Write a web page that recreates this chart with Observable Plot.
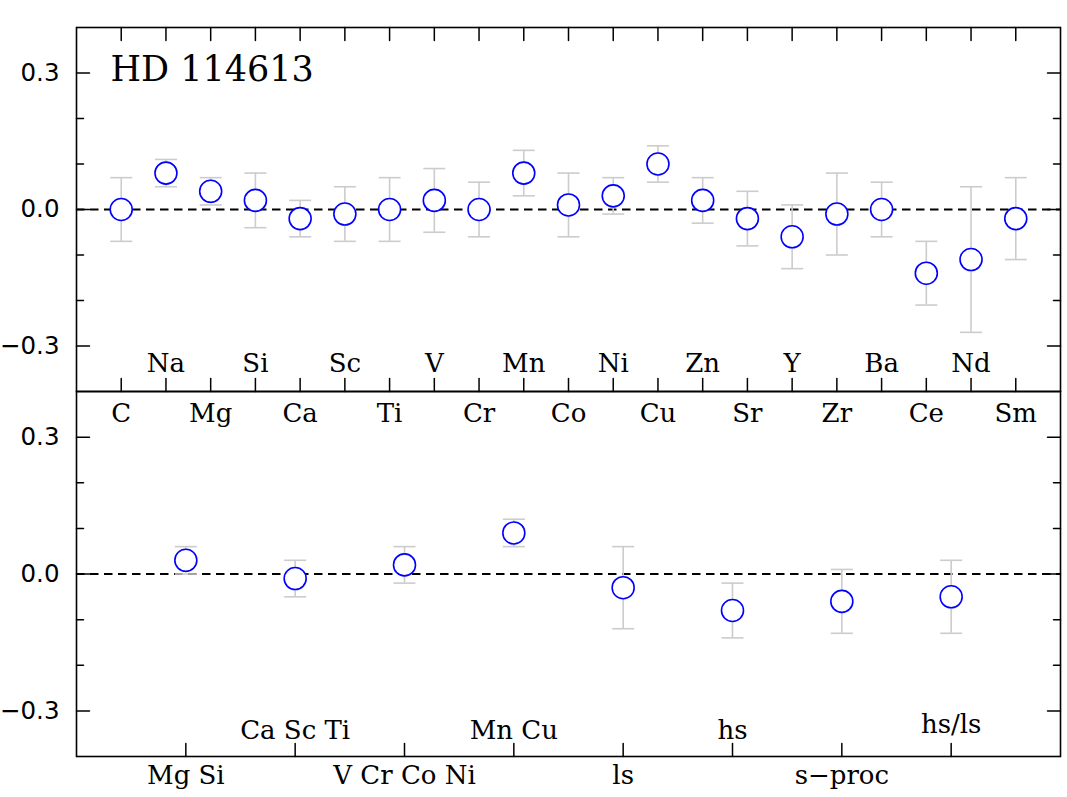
<!DOCTYPE html>
<html>
<head>
<meta charset="utf-8">
<script src="https://cdn.jsdelivr.net/npm/d3@7"></script>
<script src="https://cdn.jsdelivr.net/npm/@observablehq/plot@0.6"></script>
<style>
  html, body { margin: 0; padding: 0; background: #fff; }
  #chart { position: relative; width: 1067px; height: 797px; }
  #chart svg { position: absolute; left: 0; top: 0; }
</style>
</head>
<body>
<div id="chart"></div>
<script>
const title = "HD 114613";

const elements = ["C","Na","Mg","Si","Ca","Sc","Ti","V","Cr","Mn","Co","Ni","Cu","Zn","Sr","Y","Zr","Ba","Ce","Nd","Sm"];
const elementValues = [0.00, 0.08, 0.04, 0.02, -0.02, -0.01, 0.00, 0.02, 0.00, 0.08, 0.01, 0.03, 0.10, 0.02, -0.02, -0.06, -0.01, 0.00, -0.14, -0.11, -0.02];
const elementErrors = [0.07, 0.03, 0.03, 0.06, 0.04, 0.06, 0.07, 0.07, 0.06, 0.05, 0.07, 0.04, 0.04, 0.05, 0.06, 0.07, 0.09, 0.06, 0.07, 0.16, 0.09];

const groups = ["Mg Si","Ca Sc Ti","V Cr Co Ni","Mn Cu","ls","hs","s\u2212proc","hs/ls"];
const groupValues = [0.03, -0.01, 0.02, 0.09, -0.03, -0.08, -0.06, -0.05];
const groupErrors = [0.03, 0.04, 0.04, 0.03, 0.09, 0.06, 0.07, 0.08];

const yMajorTicks = [-0.3, 0, 0.3];
const yTickLabels = ["\u22120.3", "0.0", "0.3"];
const yMinorTicks = [-0.2, -0.1, 0.1, 0.2];

const W = 1067, H = 797;
const L = 76, R = 1060;

const line = {draw(context, l) { context.moveTo(0, 0); context.lineTo(0, -l); }};
const capSymbol = {draw(context, size) { const w = Math.sqrt(size / Math.PI); context.moveTo(-w, 0); context.lineTo(w, 0); }};

function panel(cats, vals, errs, top, bottom, opts) {
  const data = cats.map((c, i) => ({c, i, v: vals[i], e: errs[i]}));
  const inside = data.filter(d => d.i % 2 === 1 && !d.c.includes("/"));
  const insideSlash = data.filter(d => d.i % 2 === 1 && d.c.includes("/"));
  const outside = data.filter(d => d.i % 2 === 0);
  const yt = yMajorTicks.map((v, i) => ({v, label: yTickLabels[i]}));
  const tick = {anchor: "start", shape: line, stroke: "black", strokeWidth: 1.5};
  const marks = [
    Plot.ruleY([0], {stroke: "black", strokeWidth: 1.8, strokeDasharray: "8.5,5.5"}),
    Plot.ruleX(data, {x: "c", y1: d => d.v - d.e, y2: d => d.v + d.e, stroke: "#cccccc", strokeWidth: 1.6}),
    Plot.dot(data, {x: "c", y: d => d.v + d.e, r: 11, symbol: capSymbol, stroke: "#cccccc", strokeWidth: 1.6}),
    Plot.dot(data, {x: "c", y: d => d.v - d.e, r: 11, symbol: capSymbol, stroke: "#cccccc", strokeWidth: 1.6}),
    Plot.dot(data, {x: "c", y: "v", r: 11, stroke: "#0000ff", fill: "white", strokeWidth: 1.6}),
    // y ticks (inward), left and right
    Plot.vector(yMajorTicks, {y: d => d, frameAnchor: "left", rotate: 90, length: 13, ...tick}),
    Plot.vector(yMinorTicks, {y: d => d, frameAnchor: "left", rotate: 90, length: 7, ...tick}),
    Plot.vector(yMajorTicks, {y: d => d, frameAnchor: "right", rotate: -90, length: 13, ...tick}),
    Plot.vector(yMinorTicks, {y: d => d, frameAnchor: "right", rotate: -90, length: 7, ...tick}),
    // x ticks bottom (inward)
    Plot.vector(data, {x: "c", frameAnchor: "bottom", rotate: 0, length: 13, ...tick}),
    // y tick labels
    Plot.text(yt, {y: "v", text: "label", frameAnchor: "left", dx: -17, textAnchor: "end", lineAnchor: "middle", fontSize: 24.5, fontFamily: "DejaVu Sans", fill: "black"}),
    // category labels
    Plot.text(inside, {x: "c", text: "c", frameAnchor: "bottom", dy: opts.inDy, lineAnchor: "bottom", fontSize: 26, fill: "black"}),
    Plot.text(insideSlash, {x: "c", text: "c", frameAnchor: "bottom", dy: opts.inDySlash, lineAnchor: "bottom", fontSize: 26, fill: "black"}),
    Plot.text(outside, {x: "c", text: "c", frameAnchor: "bottom", dy: opts.outDy, lineAnchor: "bottom", fontSize: 26, fill: "black"}),
    Plot.frame({stroke: "black", strokeWidth: 1.6})
  ];
  if (opts.topTicks) {
    marks.push(Plot.vector(data, {x: "c", frameAnchor: "top", rotate: 180, length: 13, ...tick}));
  }
  if (opts.title) {
    marks.push(Plot.text([opts.title], {frameAnchor: "top-left", dx: 34, dy: 53, textAnchor: "start", lineAnchor: "bottom", fontSize: 35, fill: "black"}));
  }
  return Plot.plot({
    width: W,
    height: H,
    marginLeft: L,
    marginRight: W - R,
    marginTop: top,
    marginBottom: H - bottom,
    x: {type: "point", domain: cats, padding: 1, round: false, axis: null},
    y: {domain: [-0.4, 0.4], axis: null},
    style: {fontFamily: "DejaVu Serif", background: "transparent", overflow: "visible", color: "black"},
    marks
  });
}

const chart = document.getElementById("chart");
chart.append(panel(elements, elementValues, elementErrors, 27, 391, {topTicks: true, title, inDy: -20, inDySlash: -20, outDy: 30}));
chart.append(panel(groups, groupValues, groupErrors, 391, 756, {topTicks: false, inDy: -18, inDySlash: -24, outDy: 27}));
</script>
</body>
</html>
